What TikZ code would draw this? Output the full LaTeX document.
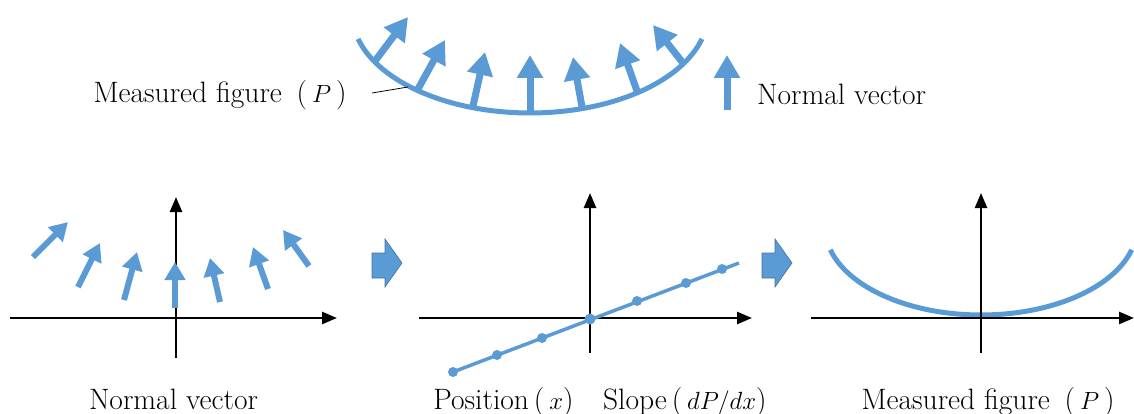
\documentclass[tikz,border=0pt]{standalone}
\usetikzlibrary{arrows.meta}
\definecolor{nblue}{HTML}{5B9BD5}
\definecolor{nbluedark}{HTML}{41719C}
\begin{document}
\begin{tikzpicture}[x=1pt,y=-1pt,
  lbl/.style={font=\fontsize{29.5}{34}\selectfont, inner sep=0pt},
  bigvec/.style={nblue, line width=7pt, -{Triangle[width=25pt,length=23pt]}},
  smallvec/.style={nblue, line width=6pt, -{Triangle[width=20pt,length=18pt]}},
  axis/.style={black, line width=2.5pt, -{Triangle[width=12pt,length=15pt]}},
  curve/.style={nblue, line width=5pt},
  slopeline/.style={nblue, line width=3.5pt},
  dot/.style={circle, fill=nblue, inner sep=0pt, minimum size=10pt},
  blockarrow/.style={fill=nblue, draw=nbluedark, line width=0.6pt}]
\useasboundingbox (0,0) rectangle (1134,414);

% ---------- top figure ----------
\draw[curve] plot[domain=195:345, samples=80] ({530+178*cos(\x)}, {13-100*sin(\x)});
\coordinate (t1a) at (375,61);  \coordinate (t1b) at (408,17);
\coordinate (t2a) at (418,89);  \coordinate (t2b) at (445,40);
\coordinate (t3a) at (473,106); \coordinate (t3b) at (485,52);
\coordinate (t4a) at (530,111); \coordinate (t4b) at (530,55);
\coordinate (t5a) at (582,107); \coordinate (t5b) at (573,57);
\coordinate (t6a) at (637,91);  \coordinate (t6b) at (620,43);
\coordinate (t7a) at (683,63);  \coordinate (t7b) at (653,25);
\foreach \i in {1,...,7} \draw[bigvec] (t\i a) -- (t\i b);

\node[lbl, anchor=base] (mftop) at (220,103) {Measured figure\enspace(\,$P$\,)};
\coordinate (leadA) at (372,93);
\coordinate (leadB) at (408,87);
\draw[black, line width=0.8pt] (leadA) -- (leadB);

\coordinate (lega) at (727,110); \coordinate (legb) at (727,55);
\draw[bigvec] (lega) -- (legb);
\node[lbl, anchor=base west] (nvtop) at (757,105) {Normal vector};

% ---------- panel 1 ----------
\coordinate (p1xa) at (10,318);  \coordinate (p1xb) at (337,318);
\coordinate (p1ya) at (176,358); \coordinate (p1yb) at (176,197);
\draw[axis] (p1xa) -- (p1xb);
\draw[axis] (p1ya) -- (p1yb);
\coordinate (s1a) at (33,257);  \coordinate (s1b) at (68,222);
\coordinate (s2a) at (78,287);  \coordinate (s2b) at (100,243);
\coordinate (s3a) at (124,300); \coordinate (s3b) at (137,252);
\coordinate (s4a) at (175,308); \coordinate (s4b) at (175,262);
\coordinate (s5a) at (220,302); \coordinate (s5b) at (210,258);
\coordinate (s6a) at (268,289); \coordinate (s6b) at (253,247);
\coordinate (s7a) at (309,266); \coordinate (s7b) at (283,230);
\foreach \i in {1,...,7} \draw[smallvec] (s\i a) -- (s\i b);
\node[lbl, anchor=base] (nvbot) at (173.5,409) {Normal vector};

% block arrow 1
\draw[blockarrow] (372,253) -- (385,253) -- (385,239) -- (402,263) -- (385,287) -- (385,278) -- (372,278) -- cycle;

% ---------- panel 2 ----------
\coordinate (p2xa) at (419,318);  \coordinate (p2xb) at (752,318);
\coordinate (p2ya) at (590,353);  \coordinate (p2yb) at (590,193);
\draw[axis] (p2xa) -- (p2xb);
\draw[axis] (p2ya) -- (p2yb);
\node[dot] (d1) at (453,372) {};
\node[dot] (d2) at (497,355) {};
\node[dot] (d3) at (542,338) {};
\node[dot, minimum size=11pt] (d4) at (590,319) {};
\node[dot] (d5) at (637,301) {};
\node[dot] (d6) at (686,283) {};
\node[dot] (d7) at (722,269) {};
\coordinate (sl) at (739,263);
\draw[slopeline] (d1.center) -- (sl);
\node[lbl, anchor=base] (posl) at (600,409) {Position\,(\,$x$)\quad Slope\,(\,$dP/dx$)};

% block arrow 2
\draw[blockarrow] (762,253) -- (775,253) -- (775,239) -- (792,263) -- (775,287) -- (775,278) -- (762,278) -- cycle;

% ---------- panel 3 ----------
\coordinate (p3xa) at (811,318);  \coordinate (p3xb) at (1134,318);
\coordinate (p3ya) at (981,353);  \coordinate (p3yb) at (981,193);
\draw[curve] plot[domain=195:345, samples=80] ({981+156*cos(\x)}, {227-88*sin(\x)});
\draw[axis] (p3xa) -- (p3xb);
\draw[axis] (p3ya) -- (p3yb);
\node[lbl, anchor=base] (mfbot) at (988,409) {Measured figure\enspace(\,$P$\,)};
\end{tikzpicture}
\end{document}
